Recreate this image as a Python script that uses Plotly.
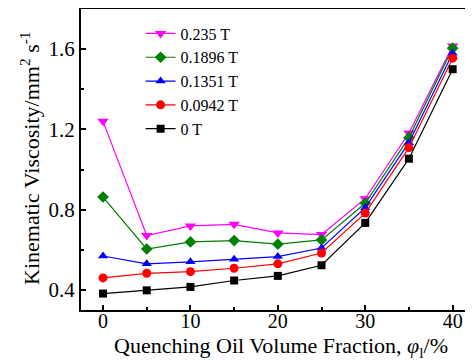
import plotly.graph_objects as go

x = [0, 5, 10, 15, 20, 25, 30, 35, 40]
series_names = ["0.235 T", "0.1896 T", "0.1351 T", "0.0942 T", "0 T"]
v_0235 = [1.24, 0.671, 0.719, 0.727, 0.684, 0.676, 0.855, 1.182, 1.615]
v_01896 = [0.863, 0.604, 0.639, 0.646, 0.628, 0.649, 0.832, 1.159, 1.605]
v_01351 = [0.569, 0.530, 0.540, 0.553, 0.566, 0.609, 0.810, 1.134, 1.58]
v_00942 = [0.460, 0.483, 0.491, 0.508, 0.530, 0.584, 0.783, 1.109, 1.555]
v_0 = [0.382, 0.398, 0.415, 0.447, 0.470, 0.523, 0.734, 1.054, 1.50]

values = [v_0235, v_01896, v_01351, v_00942, v_0]
colors = ["#ff00ff", "#008000", "#0000ff", "#ff0000", "#000000"]
symbols = ["triangle-down", "diamond", "triangle-up", "circle", "square"]
sizes = [10, 9, 9, 9, 8]

fig = go.Figure()
for name, vals, c, s, sz in zip(series_names, values, colors, symbols, sizes):
    fig.add_trace(go.Scatter(
        x=x, y=vals, name=name, mode="lines+markers",
        line=dict(color=c, width=1.2),
        marker=dict(color=c, symbol=s, size=sz),
    ))

font = "Liberation Serif, Times New Roman, serif"
fig.update_layout(
    width=465, height=356,
    margin=dict(l=73, r=0, t=1, b=54),
    paper_bgcolor="white", plot_bgcolor="white",
    font=dict(family=font, color="black", size=20),
    showlegend=True,
    legend=dict(
        x=0.152, y=0.975, xanchor="left", yanchor="top",
        bgcolor="rgba(0,0,0,0)", font=dict(size=16, family=font),
        tracegroupgap=0, itemwidth=30,
    ),
    xaxis=dict(
        range=[-2.52, 42.33], tickvals=[0, 10, 20, 30, 40],
        ticks="inside", ticklen=5, tickwidth=1.5, tickcolor="black",
        minor=dict(tickvals=[5, 15, 25, 35], ticks="inside", ticklen=3, tickcolor="black"),
        showline=True, linecolor="black", linewidth=2, mirror=True,
        showgrid=False, zeroline=False, automargin=False,
        tickfont=dict(size=20), ticklabelstandoff=-8,
    ),
    yaxis=dict(
        range=[0.3, 1.8], tickvals=[0.4, 0.8, 1.2, 1.6],
        ticktext=["0.4", "0.8", "1.2", "1.6"],
        ticks="inside", ticklen=5, tickwidth=1.5, tickcolor="black",
        minor=dict(tickvals=[0.6, 1.0, 1.4], ticks="inside", ticklen=3, tickcolor="black"),
        showline=True, linecolor="black", linewidth=2, mirror=True,
        showgrid=False, zeroline=False, automargin=False,
        tickfont=dict(size=21),
    ),
    annotations=[
        dict(text="Quenching Oil Volume Fraction, <i>φ</i><sub>l</sub>/%",
             xref="paper", yref="paper", x=0.51, y=-0.124,
             xanchor="center", yanchor="middle", showarrow=False,
             font=dict(size=22, family=font)),
        dict(text="Kinematic Viscosity/mm<sup>2</sup> s<sup>-1</sup>",
             xref="paper", yref="paper", x=-0.130, y=0.502, textangle=-90,
             xanchor="center", yanchor="middle", showarrow=False,
             font=dict(size=22, family=font)),
    ],
)

fig.write_html("out.html")
